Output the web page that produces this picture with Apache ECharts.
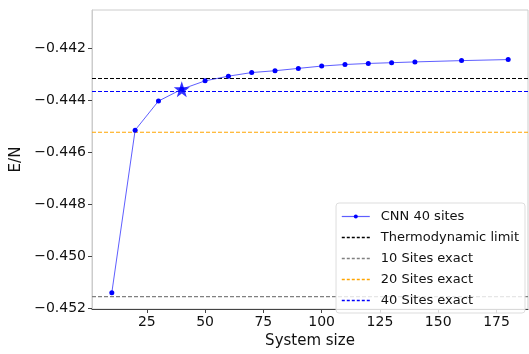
<!DOCTYPE html>
<html>
<head>
<meta charset="utf-8">
<script src="https://cdn.jsdelivr.net/npm/echarts@6/dist/echarts.min.js"></script>
<style>
  html, body { margin: 0; padding: 0; background: #fff; }
  #chart { width: 529px; height: 354px; }
</style>
</head>
<body>
<div id="chart"></div>
<script>
// system sizes and CNN energies per site
var sizes = [10, 20, 30, 40, 50, 60, 70, 80, 90, 100, 110, 120, 130, 140, 160, 180];
var cnnEnergy = [-0.45141, -0.44515, -0.44403, -0.44357, -0.44325, -0.44307, -0.44293, -0.44286,
  -0.44277, -0.44268, -0.44262, -0.44258, -0.44255, -0.44252, -0.44247, -0.44243];
// highlighted point (40 sites)
var starSize = 40;
var starEnergy = -0.44357;
// reference levels
var thermoLimit = -0.44316;
var exact10 = -0.45156;
var exact20 = -0.44523;
var exact40 = -0.44366;
// axis limits and ticks
var xMin = 1.5, xMax = 188.5;
var yMin = -0.45204, yMax = -0.44052;
var xTicks = [25, 50, 75, 100, 125, 150, 175];
var yTicks = [-0.452, -0.450, -0.448, -0.446, -0.444, -0.442];

var font = "DejaVu Sans";
var chart = echarts.init(document.getElementById("chart"));

var colThermo = "#000000", col10 = "#808080", col20 = "#ffa500", col40 = "#0000ff";

// horizontal reference line across the whole x range
function hline(name, color, value) {
  return {
    name: name,
    type: "line",
    data: [[xMin, value], [xMax, value]],
    symbol: "none",
    silent: true,
    color: color,
    itemStyle: { color: color },
    lineStyle: { color: color, type: [4, 2], width: 1.2 },
    z: 3
  };
}

function legendDash(name, color) {
  return {
    name: name,
    itemStyle: { opacity: 0 },
    lineStyle: { color: color, type: [3, 2], width: 1.5 }
  };
}

var option = {
  animation: false,
  grid: {
    left: 92, right: 1, top: 10, bottom: 40,
    show: true, borderColor: "#cccccc", borderWidth: 1
  },
  legend: {
    orient: "vertical",
    right: 4, bottom: 41,
    data: [
      { name: "CNN 40 sites", lineStyle: { color: "rgba(40,40,255,0.75)", width: 1.2 } },
      legendDash("Thermodynamic limit", colThermo),
      legendDash("10 Sites exact", col10),
      legendDash("20 Sites exact", col20),
      legendDash("40 Sites exact", col40)
    ],
    itemWidth: 28, itemHeight: 5, itemGap: 8,
    padding: [7, 6, 6, 5],
    backgroundColor: "rgba(255,255,255,0.8)",
    borderColor: "#dddddd", borderWidth: 1, borderRadius: 3,
    textStyle: { fontFamily: font, fontSize: 13, color: "#111", padding: [0, 0, 0, 6] }
  },
  xAxis: {
    type: "value",
    min: xMin, max: xMax,
    name: "System size",
    nameLocation: "middle",
    nameGap: 25,
    nameTextStyle: { fontFamily: font, fontSize: 15, color: "#111" },
    axisLine: { show: true, onZero: false, lineStyle: { color: "#444" } },
    axisTick: { show: true, customValues: xTicks, length: 4, lineStyle: { color: "#444" } },
    axisLabel: { customValues: xTicks, fontFamily: font, fontSize: 14, color: "#111", margin: 6 },
    splitLine: { show: false }
  },
  yAxis: {
    type: "value",
    min: yMin, max: yMax,
    name: "E/N",
    nameLocation: "middle",
    nameGap: 66,
    nameTextStyle: { fontFamily: font, fontSize: 15, color: "#111" },
    axisLine: { show: true, onZero: false, lineStyle: { color: "#cccccc" } },
    axisTick: { show: true, customValues: yTicks, length: 4, lineStyle: { color: "#444" } },
    axisLabel: {
      customValues: yTicks, fontFamily: font, fontSize: 14, color: "#111", margin: 6,
      formatter: function (v) { return (v < 0 ? "\u2212" : "") + Math.abs(v).toFixed(3); }
    },
    splitLine: { show: false }
  },
  series: [
    {
      name: "CNN 40 sites",
      type: "line",
      data: sizes.map(function (s, i) { return [s, cnnEnergy[i]]; }),
      color: "#0000ff",
      symbol: "circle",
      symbolSize: 5,
      itemStyle: { color: "#0000ff" },
      lineStyle: { color: "rgba(40,40,255,0.75)", width: 1 },
      z: 5
    },
    hline("Thermodynamic limit", colThermo, thermoLimit),
    hline("10 Sites exact", col10, exact10),
    hline("20 Sites exact", col20, exact20),
    hline("40 Sites exact", col40, exact40),
    {
      name: "star",
      type: "scatter",
      data: [[starSize, starEnergy]],
      symbol: "path://M0,-10 L2.35,-3.24 L9.51,-3.09 L3.8,1.24 L5.88,8.09 L0,4 L-5.88,8.09 L-3.8,1.24 L-9.51,-3.09 L-2.35,-3.24 Z",
      symbolSize: 16,
      itemStyle: { color: "#0000ff" },
      z: 6
    }
  ]
};
chart.setOption(option);
</script>
</body>
</html>
